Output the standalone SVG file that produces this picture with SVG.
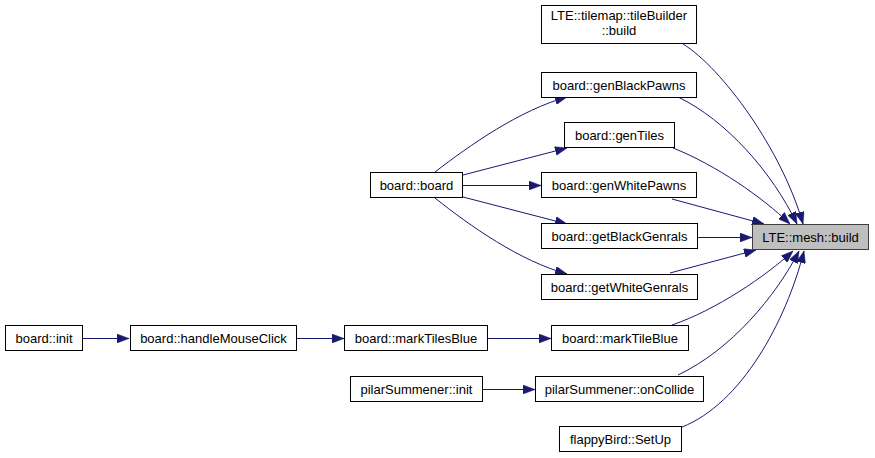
<svg xmlns="http://www.w3.org/2000/svg" width="875" height="458" viewBox="0 0 875 458">
<style>
.n rect{fill:#fff;stroke:#000;stroke-width:1}
.n.cur rect{fill:#bfbfbf;stroke:#404040}
.n text{font-family:"Liberation Sans",Arial,sans-serif;font-size:13px;text-anchor:middle;fill:#000}
#edges path{fill:none;stroke:#191970;stroke-width:1;marker-end:url(#ah)}
</style>
<defs>
<marker id="ah" markerUnits="userSpaceOnUse" viewBox="0 0 12 9" refX="12" refY="4.5" markerWidth="12" markerHeight="9" orient="auto">
<path d="M0,0 L12,4.5 L0,9 Z" fill="#191970" stroke="#191970" stroke-width="0.5"/>
</marker>
</defs>
<rect width="875" height="458" fill="#fff"/>
<g id="edges">
<path d="M683,44 C722,68 782,150 803,224"/>
<path d="M678,97 C726,120 772,172 797,224"/>
<path d="M673,148 C716,165 762,197 790,224"/>
<path d="M672,199 L764,224"/>
<path d="M698,237.5 L752,237.5"/>
<path d="M670,273 L756,250"/>
<path d="M672,325 C716,310 766,276 793,251"/>
<path d="M678,375 C731,350 776,296 799,251"/>
<path d="M682,427 C741,404 786,322 804,251"/>
<path d="M435,172 C470,145 520,110 567,97"/>
<path d="M463,175 L567,148"/>
<path d="M463,185.5 L541,185.5"/>
<path d="M463,197 L567,224"/>
<path d="M435,198 C470,226 520,261 567,274"/>
<path d="M82,338.5 L129,338.5"/>
<path d="M297,338.5 L344,338.5"/>
<path d="M488,338.5 L551,338.5"/>
<path d="M483,389.5 L535,389.5"/>
</g>
<g id="mesh_build" class="n cur"><rect x="752.5" y="224.5" width="116" height="25"/><text x="810.5" y="242">LTE::mesh::build</text></g>
<g id="tileBuilder_build" class="n"><rect x="541.5" y="5.5" width="155" height="38"/><text x="619" y="20">LTE::tilemap::tileBuilder</text><text x="619" y="35">::build</text></g>
<g id="genBlackPawns" class="n"><rect x="541.5" y="72.5" width="155" height="25"/><text x="619" y="90">board::genBlackPawns</text></g>
<g id="genTiles" class="n"><rect x="564.5" y="122.5" width="110" height="25"/><text x="619.5" y="140">board::genTiles</text></g>
<g id="board_board" class="n"><rect x="370.5" y="172.5" width="92" height="25"/><text x="416.5" y="190">board::board</text></g>
<g id="genWhitePawns" class="n"><rect x="541.5" y="172.5" width="155" height="25"/><text x="619" y="190">board::genWhitePawns</text></g>
<g id="getBlackGenrals" class="n"><rect x="541.5" y="223.5" width="156" height="25"/><text x="619.5" y="241">board::getBlackGenrals</text></g>
<g id="getWhiteGenrals" class="n"><rect x="541.5" y="274.5" width="156" height="25"/><text x="619.5" y="292">board::getWhiteGenrals</text></g>
<g id="board_init" class="n"><rect x="5.5" y="325.5" width="77" height="25"/><text x="44" y="343">board::init</text></g>
<g id="handleMouseClick" class="n"><rect x="130.5" y="325.5" width="166" height="25"/><text x="213.5" y="343">board::handleMouseClick</text></g>
<g id="markTilesBlue" class="n"><rect x="344.5" y="325.5" width="143" height="25"/><text x="416" y="343">board::markTilesBlue</text></g>
<g id="markTileBlue" class="n"><rect x="551.5" y="325.5" width="137" height="25"/><text x="620" y="343">board::markTileBlue</text></g>
<g id="pilar_init" class="n"><rect x="350.5" y="376.5" width="132" height="25"/><text x="416.5" y="394">pilarSummener::init</text></g>
<g id="onCollide" class="n"><rect x="535.5" y="376.5" width="168" height="25"/><text x="619.5" y="394">pilarSummener::onCollide</text></g>
<g id="SetUp" class="n"><rect x="559.5" y="426.5" width="122" height="25"/><text x="620.5" y="444">flappyBird::SetUp</text></g>
</svg>
